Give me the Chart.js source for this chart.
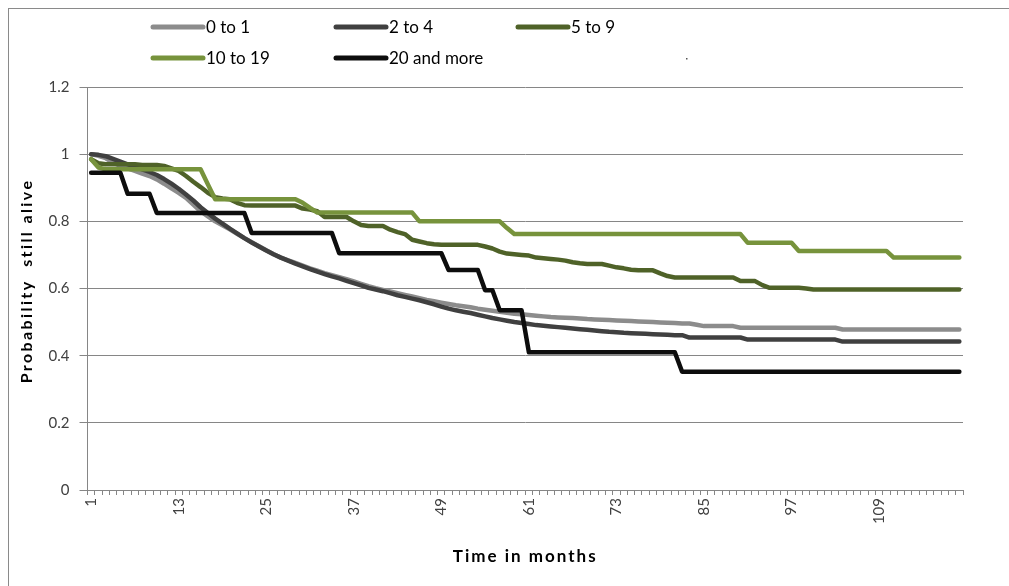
<!DOCTYPE html>
<html>
<head>
<meta charset="utf-8">
<script src="https://cdn.jsdelivr.net/npm/chart.js@4.4.1/dist/chart.umd.min.js"></script>
<style>
  html, body { margin: 0; padding: 0; background: #fff; overflow: hidden; }
  #frame { position: absolute; left: 8px; top: 8px; width: 1100px; height: 700px; border: 1px solid #8a8a8a; }
  #wrap { position: absolute; left: 0; top: 0; width: 1009px; height: 586px; }
</style>
</head>
<body>
<div id="frame"></div>
<div id="wrap"><canvas id="chart"></canvas></div>
<script>
// Survival curves by group, monthly values
const months = [
  1, 2, 3, 4, 5, 6, 7, 8, 9, 10, 11, 12, 13, 14, 15, 16, 17, 18, 19, 20,
  21, 22, 23, 24, 25, 26, 27, 28, 29, 30, 31, 32, 33, 34, 35, 36, 37, 38, 39, 40,
  41, 42, 43, 44, 45, 46, 47, 48, 49, 50, 51, 52, 53, 54, 55, 56, 57, 58, 59, 60,
  61, 62, 63, 64, 65, 66, 67, 68, 69, 70, 71, 72, 73, 74, 75, 76, 77, 78, 79, 80,
  81, 82, 83, 84, 85, 86, 87, 88, 89, 90, 91, 92, 93, 94, 95, 96, 97, 98, 99, 100,
  101, 102, 103, 104, 105, 106, 107, 108, 109, 110, 111, 112, 113, 114, 115, 116, 117, 118, 119, 120
];

const xTickLabels = ['1', '13', '25', '37', '49', '61', '73', '85', '97', '109'];
const yTickLabels = ['0', '0.2', '0.4', '0.6', '0.8', '1', '1.2'];

const seriesNames = ['0 to 1', '2 to 4', '5 to 9', '10 to 19', '20 and more'];

const zeroToOne = [
  1.00, 0.995, 0.988, 0.975, 0.965, 0.958, 0.95, 0.942, 0.935, 0.925,
  0.912, 0.898, 0.885, 0.87, 0.85, 0.83, 0.815, 0.80, 0.788, 0.776,
  0.763, 0.75, 0.738, 0.726, 0.714, 0.702, 0.692, 0.684, 0.676, 0.668,
  0.66, 0.653, 0.646, 0.64, 0.634, 0.628, 0.621, 0.614, 0.607, 0.601,
  0.596, 0.591, 0.586, 0.581, 0.576, 0.571, 0.566, 0.562, 0.558, 0.554,
  0.55, 0.547, 0.544, 0.54, 0.537, 0.534, 0.531, 0.528, 0.525, 0.523,
  0.521, 0.519, 0.517, 0.515, 0.514, 0.513, 0.512, 0.511, 0.509, 0.508,
  0.507, 0.506, 0.505, 0.504, 0.503, 0.502, 0.501, 0.50, 0.499, 0.498,
  0.497, 0.496, 0.496, 0.492, 0.488, 0.488, 0.488, 0.488, 0.488, 0.483,
  0.483, 0.483, 0.483, 0.483, 0.483, 0.483, 0.483, 0.483, 0.483, 0.483,
  0.483, 0.483, 0.483, 0.478, 0.478, 0.478, 0.478, 0.478, 0.478, 0.478,
  0.478, 0.478, 0.478, 0.478, 0.478, 0.478, 0.478, 0.478, 0.478, 0.478
];

const twoToFour = [
  1.00, 0.998, 0.994, 0.986, 0.978, 0.97, 0.962, 0.955, 0.947, 0.938,
  0.926, 0.912, 0.897, 0.88, 0.862, 0.842, 0.825, 0.808, 0.793, 0.778,
  0.764, 0.75, 0.737, 0.725, 0.713, 0.702, 0.692, 0.683, 0.674, 0.666,
  0.658, 0.65, 0.643, 0.636, 0.63, 0.623, 0.616, 0.609, 0.602, 0.597,
  0.592, 0.586, 0.58, 0.575, 0.57, 0.565, 0.559, 0.553, 0.546, 0.54,
  0.535, 0.531, 0.527, 0.522, 0.517, 0.512, 0.508, 0.504, 0.50, 0.497,
  0.494, 0.491, 0.489, 0.487, 0.485, 0.483, 0.481, 0.479, 0.477, 0.475,
  0.473, 0.471, 0.47, 0.468, 0.467, 0.466, 0.465, 0.464, 0.463, 0.462,
  0.461, 0.461, 0.454, 0.454, 0.454, 0.454, 0.454, 0.454, 0.454, 0.454,
  0.448, 0.448, 0.448, 0.448, 0.448, 0.448, 0.448, 0.448, 0.448, 0.448,
  0.448, 0.448, 0.448, 0.442, 0.442, 0.442, 0.442, 0.442, 0.442, 0.442,
  0.442, 0.442, 0.442, 0.442, 0.442, 0.442, 0.442, 0.442, 0.442, 0.442
];

const fiveToNine = [
  0.985, 0.973, 0.97, 0.97, 0.97, 0.97, 0.97, 0.968, 0.968, 0.968,
  0.965, 0.958, 0.95, 0.935, 0.918, 0.902, 0.885, 0.872, 0.868, 0.866,
  0.855, 0.848, 0.847, 0.847, 0.847, 0.847, 0.847, 0.847, 0.847, 0.838,
  0.835, 0.83, 0.813, 0.813, 0.813, 0.813, 0.80, 0.789, 0.786, 0.786,
  0.786, 0.775, 0.768, 0.762, 0.745, 0.74, 0.735, 0.732, 0.73, 0.73,
  0.73, 0.73, 0.73, 0.73, 0.725, 0.719, 0.71, 0.704, 0.702, 0.70,
  0.698, 0.692, 0.69, 0.688, 0.686, 0.683, 0.678, 0.675, 0.673, 0.673,
  0.673, 0.668, 0.663, 0.66, 0.656, 0.654, 0.654, 0.654, 0.645, 0.637,
  0.633, 0.633, 0.633, 0.633, 0.633, 0.633, 0.633, 0.633, 0.633, 0.622,
  0.622, 0.622, 0.61, 0.602, 0.602, 0.602, 0.602, 0.602, 0.60, 0.597,
  0.597, 0.597, 0.597, 0.597, 0.597, 0.597, 0.597, 0.597, 0.597, 0.597,
  0.597, 0.597, 0.597, 0.597, 0.597, 0.597, 0.597, 0.597, 0.597, 0.597
];

const tenToNineteen = [
  0.985, 0.96, 0.955, 0.955, 0.955, 0.955, 0.955, 0.955, 0.955, 0.955,
  0.955, 0.955, 0.955, 0.955, 0.955, 0.955, 0.91, 0.866, 0.866, 0.866,
  0.866, 0.866, 0.866, 0.866, 0.866, 0.866, 0.866, 0.866, 0.866, 0.855,
  0.84, 0.826, 0.826, 0.826, 0.826, 0.826, 0.826, 0.826, 0.826, 0.826,
  0.826, 0.826, 0.826, 0.826, 0.826, 0.80, 0.80, 0.80, 0.80, 0.80,
  0.80, 0.80, 0.80, 0.80, 0.80, 0.80, 0.80, 0.78, 0.762, 0.762,
  0.762, 0.762, 0.762, 0.762, 0.762, 0.762, 0.762, 0.762, 0.762, 0.762,
  0.762, 0.762, 0.762, 0.762, 0.762, 0.762, 0.762, 0.762, 0.762, 0.762,
  0.762, 0.762, 0.762, 0.762, 0.762, 0.762, 0.762, 0.762, 0.762, 0.762,
  0.736, 0.736, 0.736, 0.736, 0.736, 0.736, 0.736, 0.712, 0.712, 0.712,
  0.712, 0.712, 0.712, 0.712, 0.712, 0.712, 0.712, 0.712, 0.712, 0.712,
  0.692, 0.692, 0.692, 0.692, 0.692, 0.692, 0.692, 0.692, 0.692, 0.692
];

const twentyPlus = [
  0.945, 0.945, 0.945, 0.945, 0.945, 0.882, 0.882, 0.882, 0.882, 0.825,
  0.825, 0.825, 0.825, 0.825, 0.825, 0.825, 0.825, 0.825, 0.825, 0.825,
  0.825, 0.825, 0.765, 0.765, 0.765, 0.765, 0.765, 0.765, 0.765, 0.765,
  0.765, 0.765, 0.765, 0.765, 0.705, 0.705, 0.705, 0.705, 0.705, 0.705,
  0.705, 0.705, 0.705, 0.705, 0.705, 0.705, 0.705, 0.705, 0.705, 0.655,
  0.655, 0.655, 0.655, 0.655, 0.595, 0.595, 0.535, 0.535, 0.535, 0.535,
  0.41, 0.41, 0.41, 0.41, 0.41, 0.41, 0.41, 0.41, 0.41, 0.41,
  0.41, 0.41, 0.41, 0.41, 0.41, 0.41, 0.41, 0.41, 0.41, 0.41,
  0.41, 0.352, 0.352, 0.352, 0.352, 0.352, 0.352, 0.352, 0.352, 0.352,
  0.352, 0.352, 0.352, 0.352, 0.352, 0.352, 0.352, 0.352, 0.352, 0.352,
  0.352, 0.352, 0.352, 0.352, 0.352, 0.352, 0.352, 0.352, 0.352, 0.352,
  0.352, 0.352, 0.352, 0.352, 0.352, 0.352, 0.352, 0.352, 0.352, 0.352
];

const seriesColors = ['#8c8c8c', '#404040', '#4f6228', '#77933c', '#0d0d0d'];

const FONT = 'Lato, "Open Sans", sans-serif';
const AXIS_GREY = '#868686';

// Excel-like legend (3 columns, 2 rows) and the two axis titles
const decorPlugin = {
    id: 'decor',
    afterDraw(chart) {
        const ctx = chart.ctx;
        const area = chart.chartArea;
        const colX = [153, 336, 518];
        const rowY = [27, 58];
        ctx.save();
        ctx.font = '17px ' + FONT;
        ctx.textBaseline = 'middle';
        chart.data.datasets.forEach((ds, i) => {
            const x = colX[i % 3];
            const y = rowY[Math.floor(i / 3)];
            ctx.strokeStyle = ds.borderColor;
            ctx.lineWidth = 5;
            ctx.lineCap = 'round';
            ctx.beginPath();
            ctx.moveTo(x, y);
            ctx.lineTo(x + 50, y);
            ctx.stroke();
            ctx.fillStyle = '#000';
            ctx.fillText(ds.label, x + 53, y + 1);
        });
        // empty sixth legend entry shows as a tiny dot
        ctx.fillStyle = '#555';
        ctx.fillRect(686, 58, 1.5, 1.5);

        // axis titles
        ctx.fillStyle = '#000';
        ctx.textAlign = 'center';
        ctx.font = 'bold 17px ' + FONT;
        if ('letterSpacing' in ctx) ctx.letterSpacing = '2px';
        ctx.fillText('Time in months', (area.left + area.right) / 2, 557);

        ctx.translate(27, 281);
        ctx.rotate(-Math.PI / 2);
        ctx.font = 'bold 16px ' + FONT;
        if ('letterSpacing' in ctx) ctx.letterSpacing = '2.4px';
        ctx.fillText('Probability  still alive', 0, 0);
        ctx.restore();
    }
};

const datasets = [zeroToOne, twoToFour, fiveToNine, tenToNineteen, twentyPlus].map((values, i) => ({
    label: seriesNames[i],
    data: values,
    borderColor: seriesColors[i],
    backgroundColor: seriesColors[i],
    borderWidth: 4.5,
    pointRadius: 0,
    tension: 0,
    fill: false,
    order: 5 - i,
    borderJoinStyle: 'round',
    borderCapStyle: 'round'
}));

new Chart(document.getElementById('chart'), {
    type: 'line',
    data: {
        labels: months,
        datasets: datasets
    },
    plugins: [decorPlugin],
    options: {
        responsive: true,
        maintainAspectRatio: false,
        animation: false,
        layout: {
            padding: { left: 0, right: 46, top: 87, bottom: 0 }
        },
        plugins: {
            legend: { display: false },
            tooltip: { enabled: false }
        },
        scales: {
            x: {
                type: 'category',
                offset: true,
                afterFit: function(scale) {
                    scale.height = 96;
                },
                grid: {
                    offset: true,
                    drawOnChartArea: false,
                    drawTicks: true,
                    tickLength: 5,
                    color: AXIS_GREY
                },
                border: { color: AXIS_GREY, width: 1 },
                ticks: {
                    autoSkip: false,
                    minRotation: 90,
                    maxRotation: 90,
                    padding: 3,
                    color: '#404040',
                    font: { family: FONT, size: 15 },
                    callback: function(value, index) {
                        const lbl = String(months[index]);
                        return xTickLabels.includes(lbl) ? lbl : '';
                    }
                }
            },
            y: {
                min: 0,
                max: 1.2,
                afterFit: function(scale) {
                    scale.width = 87.5;
                },
                grid: {
                    color: AXIS_GREY,
                    lineWidth: 1,
                    drawTicks: true,
                    tickLength: 8
                },
                border: { color: AXIS_GREY, width: 1 },
                ticks: {
                    stepSize: 0.2,
                    padding: 10,
                    color: '#404040',
                    font: { family: FONT, size: 15 },
                    callback: function(value, index) {
                        return yTickLabels[index];
                    }
                }
            }
        }
    }
});
</script>
</body>
</html>
